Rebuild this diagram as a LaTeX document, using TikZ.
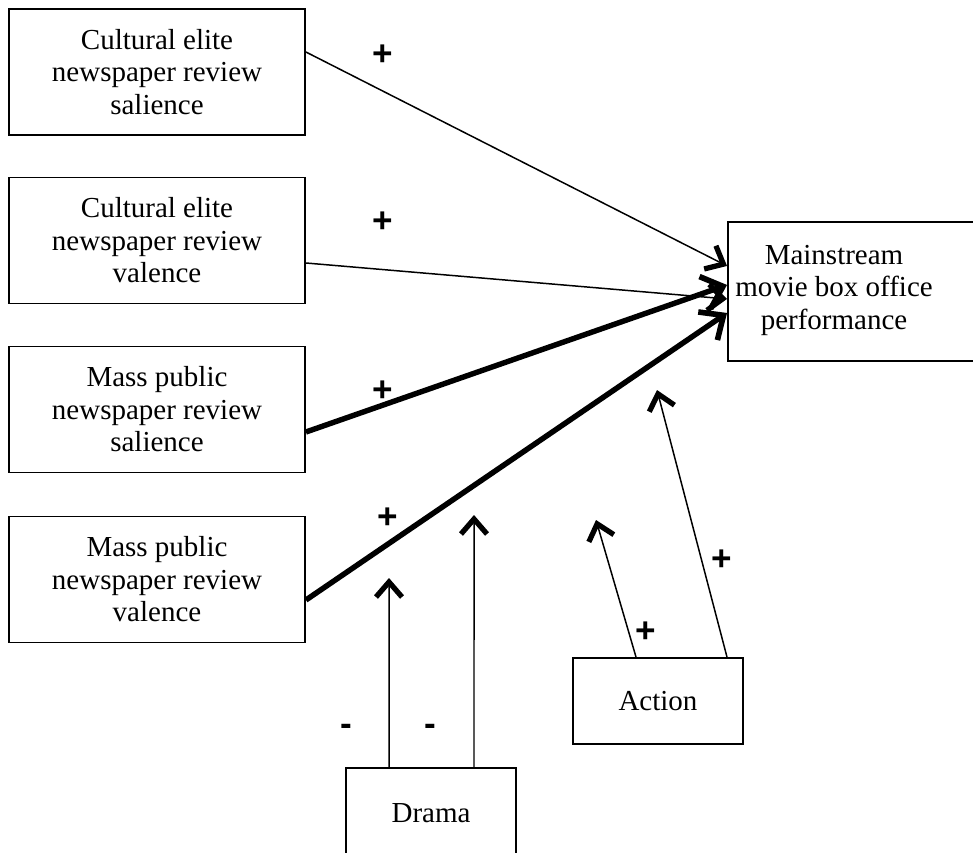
\documentclass[tikz,border=0pt]{standalone}
\usepackage{fontspec}
\setmainfont{Liberation Serif}
\newfontfamily\signfont{Liberation Sans}
\usetikzlibrary{arrows.meta, positioning}

\tikzset{
  box/.style={draw, line width=1.1pt, align=center, font=\fontsize{16.5}{18.5}\selectfont},
  review/.style={box, minimum width=5.92cm, minimum height=2.52cm},
  modbox/.style={box, minimum width=3.4cm},
  path thin/.style={line width=0.85pt, -{Straight Barb[length=0.3cm, width=0.52cm, line width=3pt]}},
  path thick/.style={line width=3.1pt, -{Straight Barb[length=0.38cm, width=0.68cm, line width=3.2pt]}},
  sign/.style={font=\signfont\bfseries\fontsize{20}{20}\selectfont, inner sep=0pt}
}

\begin{document}
\begin{tikzpicture}[x=0.02cm, y=-0.02cm]
  \useasboundingbox (0,0) rectangle (973,852);
  % Review boxes
  \node[review] (celite_sal) at (157,72) {Cultural elite\\newspaper review\\salience};
  \node[review] (celite_val) at (157,240.5) {Cultural elite\\newspaper review\\valence};
  \node[review] (mass_sal) at (157,409.5) {Mass public\\newspaper review\\salience};
  \node[review] (mass_val) at (157,579.5) {Mass public\\newspaper review\\valence};
  % Outcome
  \node[box, anchor=north west, minimum width=6cm, minimum height=2.78cm] (perf) at (727,221) {};
  \node[align=center, font=\fontsize{16.5}{18.5}\selectfont] (perf_text) at (834,290) {Mainstream\\movie box office\\performance};
  % Genres
  \node[modbox, minimum height=1.72cm] (action) at (658,701) {Action};
  \node[modbox, minimum height=1.8cm] (drama) at (431,813) {Drama};
  % Free ends on the paths
  \coordinate (dtip1) at (389,578);
  \coordinate (dtip2) at (474,515);
  \coordinate (atip1) at (596,520);
  \coordinate (atip2) at (657,390);
  % Paths
  \draw[path thin] ([yshift=0.4cm]celite_sal.east) -- ([yshift=0.51cm]perf.west);
  \draw[path thin] ([yshift=-0.45cm]celite_val.east) -- ([yshift=-0.15cm]perf.west);
  \draw[path thick] ([yshift=-0.45cm]mass_sal.east) -- ([yshift=0.13cm]perf.west);
  \draw[path thick] ([yshift=-0.41cm]mass_val.east) -- ([yshift=-0.43cm]perf.west);
  \draw[path thin] ([xshift=-0.84cm]drama.north) -- (dtip1);
  \draw[path thin] ([xshift=0.86cm]drama.north) -- (dtip2);
  \draw[path thin] ([xshift=-0.44cm]action.north) -- (atip1);
  \draw[path thin] ([xshift=1.38cm]action.north) -- (atip2);
  % Signs
  \node[sign] (p1) at (383,55) {+};
  \node[sign] (p2) at (383,222) {+};
  \node[sign] (p3) at (383,391) {+};
  \node[sign] (p4) at (388,518) {+};
  \node[sign] (p5) at (646,632) {+};
  \node[sign] (p6) at (722,560) {+};
  \node[sign] (m1) at (346,730) {-};
  \node[sign] (m2) at (430,730) {-};
\end{tikzpicture}
\end{document}
